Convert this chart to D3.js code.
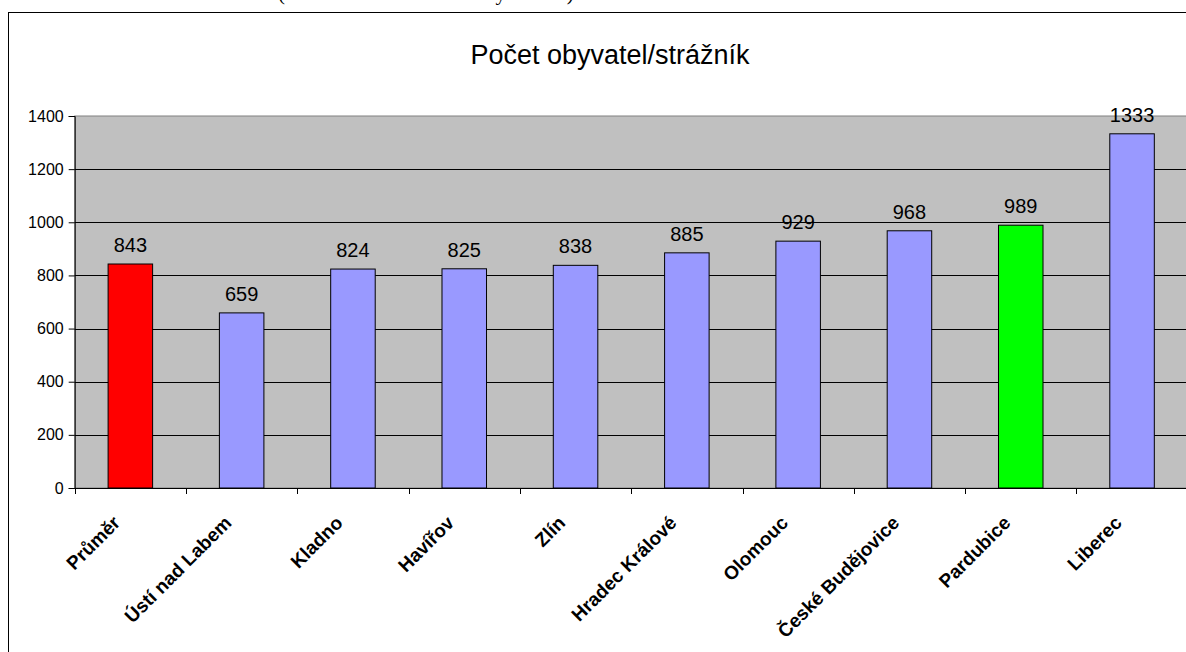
<!DOCTYPE html>
<html>
<head>
<meta charset="utf-8">
<script src="https://cdn.jsdelivr.net/npm/d3@7"></script>
<style>
  body { margin: 0; background: #fff; }
  svg { display: block; }
</style>
</head>
<body>
<script>
const cities = ["Průměr", "Ústí nad Labem", "Kladno", "Havířov", "Zlín", "Hradec Králové", "Olomouc", "České Budějovice", "Pardubice", "Liberec"];
const residentsPerGuard = [843, 659, 824, 825, 838, 885, 929, 968, 989, 1333];
const barColors = ["#ff0000", "#9999ff", "#9999ff", "#9999ff", "#9999ff", "#9999ff", "#9999ff", "#9999ff", "#00ff00", "#9999ff"];
const yTicks = [0, 200, 400, 600, 800, 1000, 1200, 1400];

const w = 1186;
const h = 652;
const svg = d3.select("body")
  .append("svg")
  .attr("width", w)
  .attr("height", h);

// heading above the chart box, mostly off the top edge like in the source
svg.append("text")
  .attr("x", 278)
  .attr("y", 0)
  .attr("font-family", "Liberation Serif, Times New Roman, serif")
  .attr("font-size", "21px")
  .text("(statutární města bez Prahy a Brna)");

// chart box
svg.append("rect")
  .attr("x", 8.5).attr("y", 12.5)
  .attr("width", 1200).attr("height", 700)
  .attr("fill", "#fff").attr("stroke", "#000");

svg.append("text")
  .attr("x", 610)
  .attr("y", 64)
  .attr("text-anchor", "middle")
  .attr("font-family", "Liberation Sans, Arial, sans-serif")
  .attr("font-size", "27px")
  .text("Počet obyvatel/strážník");

const pLeft = 74.7, pRight = 1187.7, pTop = 116, pBottom = 488;

const x = d3.scaleBand().domain(cities).range([pLeft, pRight]).paddingInner(0).paddingOuter(0);
const y = d3.scaleLinear().domain([0, 1400]).range([pBottom, pTop]);

svg.append("rect")
  .attr("x", pLeft).attr("y", pTop)
  .attr("width", pRight - pLeft).attr("height", pBottom - pTop)
  .attr("fill", "#c0c0c0").attr("stroke", "#808080");

// gridlines
svg.append("g")
  .selectAll("line")
  .data(yTicks.filter(d => d > 0 && d < 1400))
  .enter()
  .append("line")
  .attr("x1", pLeft).attr("x2", pRight)
  .attr("y1", d => Math.round(y(d)) + 0.5)
  .attr("y2", d => Math.round(y(d)) + 0.5)
  .attr("stroke", "#000");

// y axis
const yAxis = svg.append("g")
  .attr("transform", `translate(${pLeft},0)`)
  .call(d3.axisLeft(y).tickValues(yTicks).tickSize(6).tickPadding(5).tickFormat(d3.format("d")));
yAxis.selectAll("text")
  .attr("font-family", "Liberation Sans, Arial, sans-serif")
  .attr("font-size", "16px")
  .attr("fill", "#000");
yAxis.selectAll("line, path").attr("stroke", "#000");

// bars
const bw = x.bandwidth() * 0.4;
svg.append("g")
  .selectAll("rect")
  .data(residentsPerGuard)
  .enter()
  .append("rect")
  .attr("x", (d, i) => x(cities[i]) + (x.bandwidth() - bw) / 2)
  .attr("y", d => y(d))
  .attr("width", bw)
  .attr("height", d => pBottom - y(d))
  .attr("fill", (d, i) => barColors[i])
  .attr("stroke", "#000");

// value labels
svg.append("g")
  .selectAll("text")
  .data(residentsPerGuard)
  .enter()
  .append("text")
  .attr("x", (d, i) => x(cities[i]) + x.bandwidth() / 2)
  .attr("y", d => y(d) - 12)
  .attr("text-anchor", "middle")
  .attr("font-family", "Liberation Sans, Arial, sans-serif")
  .attr("font-size", "20px")
  .text(d => d);

// x axis
svg.append("line")
  .attr("x1", pLeft).attr("x2", pRight)
  .attr("y1", pBottom + 0.5).attr("y2", pBottom + 0.5)
  .attr("stroke", "#000");
svg.append("g")
  .selectAll("line")
  .data(d3.range(cities.length + 1))
  .enter()
  .append("line")
  .attr("x1", i => Math.round(pLeft + i * x.step()) + 0.5)
  .attr("x2", i => Math.round(pLeft + i * x.step()) + 0.5)
  .attr("y1", pBottom).attr("y2", pBottom + 6)
  .attr("stroke", "#000");

svg.append("g")
  .selectAll("text")
  .data(cities)
  .enter()
  .append("text")
  .attr("transform", d => `translate(${x(d) + x.bandwidth() / 2 - 9},${pBottom + 36}) rotate(-45)`)
  .attr("text-anchor", "end")
  .attr("font-family", "Liberation Sans, Arial, sans-serif")
  .attr("font-size", "19px")
  .attr("font-weight", "bold")
  .text(d => d);
</script>
</body>
</html>
